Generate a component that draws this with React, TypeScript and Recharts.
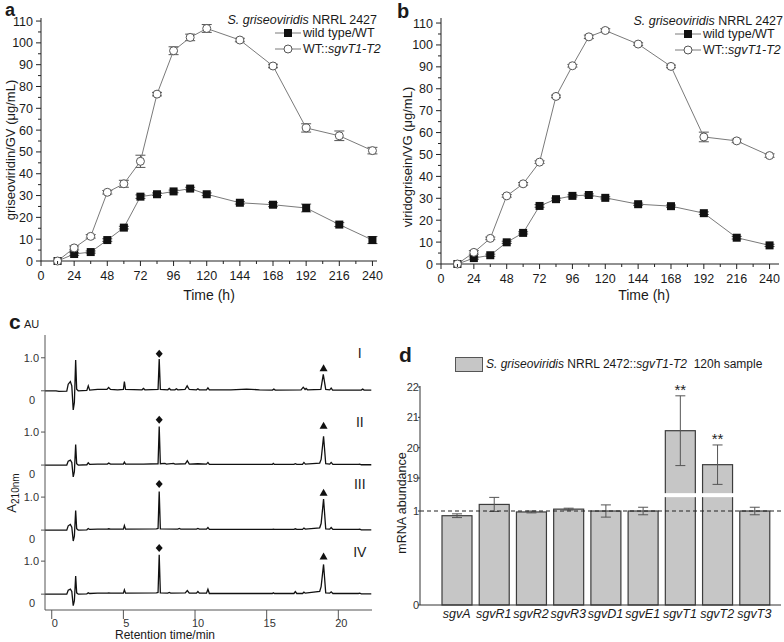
import React from "react"
import {
  LineChart,
  ComposedChart,
  BarChart,
  Line,
  Bar,
  Scatter,
  XAxis,
  YAxis,
  ErrorBar,
  ReferenceLine,
  LabelList,
} from "recharts"

const FONT = '"Liberation Sans", Arial, sans-serif'

// panels a / b: production over time
const hours = [12, 24, 36, 48, 60, 72, 84, 96, 108, 120, 144, 168, 192, 216, 240]
const gvWild = [0, 3.2, 4.1, 9.6, 15.3, 29.5, 30.6, 31.9, 33.2, 30.6, 26.7, 25.8, 24.3, 16.7, 9.6]
const gvWildErr = [0, 0.6, 0.5, 0.6, 0.6, 0.8, 0.6, 0.6, 0.6, 0.6, 0.6, 0.9, 1.8, 0.9, 1.6]
const gvOver = [0, 6.0, 11.3, 31.5, 35.4, 45.7, 76.5, 96.4, 102.5, 106.6, 101.3, 89.4, 61.0, 57.4, 50.6]
const gvOverErr = [0, 0.9, 0.8, 0.8, 1.6, 2.8, 0.8, 1.8, 1.5, 1.8, 0.8, 0.8, 1.9, 2.2, 1.5]
const vgWild = [0, 2.7, 4.0, 9.9, 14.2, 26.5, 29.6, 31.1, 31.5, 30.2, 27.3, 26.4, 23.2, 12.0, 8.5]
const vgWildErr = [0, 0.5, 0.5, 0.5, 0.5, 0.6, 0.5, 0.5, 0.5, 0.5, 0.5, 0.5, 0.6, 0.6, 0.5]
const vgOver = [0, 5.3, 11.7, 31.1, 36.6, 46.5, 76.5, 90.5, 103.7, 106.6, 100.4, 90.2, 58.0, 56.2, 49.5]
const vgOverErr = [0, 0.8, 0.6, 0.6, 0.6, 0.6, 0.6, 0.6, 0.8, 0.8, 0.6, 0.6, 2.2, 0.8, 0.8]
const hourTicks = [0, 12, 24, 36, 48, 60, 72, 84, 96, 108, 120, 132, 144, 156, 168, 180, 192, 204, 216, 228, 240]
const concTicks = [0, 5, 10, 15, 20, 25, 30, 35, 40, 45, 50, 55, 60, 65, 70, 75, 80, 85, 90, 95, 100, 105, 110]

// panel c: HPLC traces, [min, AU above own baseline]
const traceNames = ["I", "II", "III", "IV"]
const traceOffsets = [6.64, 4.39, 2.42, 0.48]
const traceI = [
  [-0.47, 0], [0.3, 0], [0.5, -0.02], [1.05, -0.01], [1.15, 0.2], [1.3, 0.28], [1.4, 0.15], [1.5, -0.58],
  [1.58, -0.35], [1.67, 0.93], [1.74, 0.05], [1.85, 0], [2.45, 0.01], [2.55, 0.15], [2.65, 0.02], [3.2, 0.04],
  [3.85, 0.04], [3.97, 0.1], [4.1, 0.04], [4.6, 0.03], [5.0, 0.04], [5.07, 0.28], [5.15, 0.04], [6.3, 0.03],
  [6.4, 0.07], [6.5, 0.03], [7.42, 0.04], [7.5, 0.96], [7.58, 0.04], [8.1, 0.03], [8.2, 0.07], [8.3, 0.03],
  [8.6, 0.03], [8.7, 0.06], [8.8, 0.03], [9.3, 0.04], [9.45, 0.15], [9.6, 0.04], [10.1, 0.03], [10.2, 0.06],
  [10.3, 0.03], [10.8, 0.03], [10.9, 0.09], [11.0, 0.03], [12.5, 0.03], [13.6, 0.05], [14.5, 0.03], [15.4, 0.02],
  [15.5, 0.05], [15.6, 0.02], [17.4, 0.03], [17.55, 0.11], [17.68, 0.04], [17.75, 0.07], [17.85, 0.03],
  [18.78, 0.04], [18.95, 0.5], [19.12, 0.04], [19.4, 0.03], [19.5, 0.08], [19.6, 0.02], [21.6, 0.02],
  [21.7, 0.05], [21.8, 0.02], [22.3, 0.02],
]
const traceII = [
  [-0.47, 0], [1.05, 0], [1.15, 0.12], [1.3, 0.15], [1.4, 0.08], [1.5, -0.36], [1.58, -0.2], [1.67, 0.62],
  [1.74, 0.04], [1.85, 0], [2.45, 0.01], [2.55, 0.07], [2.65, 0.02], [3.2, 0.03], [3.88, 0.03], [3.98, 0.06],
  [4.1, 0.03], [5.0, 0.03], [5.07, 0.09], [5.15, 0.03], [6.4, 0.03], [7.42, 0.04], [7.5, 1.17], [7.58, 0.04],
  [7.9, 0.05], [8.0, 0.03], [8.5, 0.05], [8.6, 0.03], [9.32, 0.04], [9.46, 0.13], [9.6, 0.03], [10.2, 0.04],
  [10.8, 0.03], [10.9, 0.08], [11.0, 0.02], [13.6, 0.02], [15.4, 0.02], [15.46, 0.05], [15.55, 0.02],
  [16.9, 0.02], [17.0, 0.04], [17.1, 0.02], [17.5, 0.02], [17.6, 0.08], [17.7, 0.03], [18.7, 0.06],
  [18.8, 0.17], [18.97, 0.87], [19.12, 0.04], [19.4, 0.03], [19.5, 0.08], [19.62, 0.02], [21.4, 0.02],
  [21.5, 0.03], [21.6, 0.01], [22.3, 0.01],
]
const traceIII = [
  [-0.47, 0], [1.05, 0], [1.15, 0.13], [1.3, 0.17], [1.4, 0.09], [1.5, -0.33], [1.58, -0.18], [1.67, 0.59],
  [1.74, 0.04], [1.85, 0], [2.45, 0.01], [2.55, 0.05], [2.65, 0.02], [3.2, 0.03], [3.88, 0.03], [3.98, 0.04],
  [4.1, 0.03], [5.0, 0.03], [5.07, 0.14], [5.15, 0.03], [7.3, 0.04], [7.42, 0.05], [7.5, 1.17], [7.58, 0.04],
  [8.8, 0.03], [8.9, 0.05], [9.0, 0.03], [10.1, 0.03], [10.2, 0.05], [10.3, 0.03], [10.8, 0.03], [10.9, 0.08],
  [11.0, 0.02], [15.4, 0.02], [15.46, 0.03], [15.55, 0.02], [16.9, 0.02], [17.0, 0.04], [17.1, 0.02],
  [17.5, 0.02], [17.6, 0.06], [17.7, 0.03], [18.7, 0.07], [18.8, 0.2], [18.97, 0.94], [19.12, 0.04],
  [19.4, 0.03], [19.5, 0.08], [19.62, 0.02], [21.4, 0.02], [21.5, 0.03], [21.6, 0.01], [22.3, 0.01],
]
const traceIV = [
  [-0.47, 0], [1.05, 0], [1.15, 0.12], [1.3, 0.15], [1.4, 0.08], [1.5, -0.35], [1.58, -0.2], [1.67, 0.55],
  [1.74, 0.04], [1.85, 0], [2.45, 0.01], [2.55, 0.04], [2.65, 0.02], [3.2, 0.03], [3.88, 0.03], [3.98, 0.04],
  [4.1, 0.03], [5.0, 0.03], [5.07, 0.13], [5.15, 0.03], [7.3, 0.04], [7.42, 0.05], [7.5, 1.19], [7.58, 0.04],
  [8.1, 0.03], [8.2, 0.05], [8.3, 0.03], [9.32, 0.04], [9.46, 0.11], [9.6, 0.03], [10.1, 0.03], [10.2, 0.08],
  [10.3, 0.03], [10.8, 0.03], [10.9, 0.15], [11.0, 0.02], [15.4, 0.02], [15.46, 0.04], [15.55, 0.02],
  [16.9, 0.02], [17.0, 0.08], [17.1, 0.02], [17.5, 0.02], [17.6, 0.06], [17.7, 0.03], [18.7, 0.08],
  [18.8, 0.23], [18.97, 0.9], [19.12, 0.04], [19.4, 0.03], [19.5, 0.07], [19.62, 0.02], [21.4, 0.02],
  [21.5, 0.03], [21.6, 0.01], [22.3, 0.01],
]
const traces = [traceI, traceII, traceIII, traceIV]
const diamondHeights = [1.12, 1.37, 1.4, 1.4]
const triangleHeights = [0.68, 1.19, 1.13, 1.14]
const romanHeights = [1.15, 1.31, 1.4, 1.28]
const retentionTicks = [0, 5, 10, 15, 20]

// panel d: qPCR
const genes = ["sgvA", "sgvR1", "sgvR2", "sgvR3", "sgvD1", "sgvE1", "sgvT1", "sgvT2", "sgvT3"]
const abundance = [0.95, 1.07, 0.99, 1.02, 1.0, 1.0, 20.56, 19.44, 1.0]
const abundanceErr = [0.02, 0.075, 0.01, 0.01, 0.065, 0.04, 1.15, 0.65, 0.04]
const significance = ["", "", "", "", "", "", "**", "**", ""]
const abundanceTicks = [0, 1, 19, 20, 21, 22]

// broken axis: linear below 10, compressed from 19 upward
const brokenScale = (v: number) => (v < 10 ? v : 1.351 + (v - 19) * 0.3227)
const brokenSlope = (v: number) => (v < 10 ? 1 : 0.3227)

const growthRows = (wt: number[], wtErr: number[], oe: number[], oeErr: number[]) =>
  hours.map((h, i) => ({ h, wt: wt[i], wtErr: wtErr[i], oe: oe[i], oeErr: oeErr[i] }))

const gvRows = growthRows(gvWild, gvWildErr, gvOver, gvOverErr)
const vgRows = growthRows(vgWild, vgWildErr, vgOver, vgOverErr)

const traceRows = traces.map((tr, k) => tr.map(([t, a]) => ({ t, y: a + traceOffsets[k] })))
const diamondRows = traceOffsets.map((o, k) => ({ t: 7.5, y: o + diamondHeights[k] }))
const triangleRows = traceOffsets.map((o, k) => ({ t: 18.97, y: o + triangleHeights[k] }))
const romanRows = traceOffsets.map((o, k) => ({ t: 21.5, y: o + romanHeights[k], name: traceNames[k] }))
const traceTicks = traceOffsets.flatMap((o) => [o, o + 1])

const geneRows = genes.map((g, i) => {
  const e = abundanceErr[i] * brokenSlope(abundance[i])
  return { gene: g, value: abundance[i], d: brokenScale(abundance[i]), err: [e, e], sig: significance[i] }
})

const Txt = ({ x, y, size = 13, anchor = "start", children, style = {} }: any) => {
  const shift = anchor === "end" ? "-100%" : anchor === "middle" ? "-50%" : "0"
  return (
    <div
      style={{
        position: "absolute",
        left: x,
        top: y,
        transform: `translate(${shift}, -50%)`,
        fontSize: size,
        lineHeight: 1,
        whiteSpace: "nowrap",
        color: "#1a1a1a",
        fontFamily: FONT,
        ...style,
      }}
    >
      {children}
    </div>
  )
}

const VTxt = ({ x, y, size = 13, children }: any) => (
  <div
    style={{
      position: "absolute",
      left: x,
      top: y,
      transform: "translate(-50%, -50%) rotate(-90deg)",
      fontSize: size,
      lineHeight: 1,
      whiteSpace: "nowrap",
      color: "#1a1a1a",
      fontFamily: FONT,
    }}
  >
    {children}
  </div>
)

const SquareDot = (p: any) => (
  <rect key={`s${p.index}`} x={p.cx - 4} y={p.cy - 4} width={8} height={8} fill="#111" />
)
const CircleDot = (p: any) => (
  <circle key={`c${p.index}`} cx={p.cx} cy={p.cy} r={4} fill="#fff" stroke="#555" strokeWidth={1} />
)

const HourTick = (p: any) => {
  const major = p.payload.value % 24 === 0
  return (
    <g>
      <line x1={p.x} x2={p.x} y1={p.y} y2={p.y + (major ? 5 : 3)} stroke="#222" />
      {major && (
        <text x={p.x} y={p.y + 19} textAnchor="middle" fontSize={12.5} fill="#1a1a1a" fontFamily={FONT}>
          {p.payload.value}
        </text>
      )}
    </g>
  )
}

const ConcTick = (p: any) => {
  const major = p.payload.value % 10 === 0
  return (
    <g>
      <line x1={p.x} x2={p.x - (major ? 5 : 3)} y1={p.y} y2={p.y} stroke="#222" />
      {major && (
        <text x={p.x - 8} y={p.y + 4.5} textAnchor="end" fontSize={12.5} fill="#1a1a1a" fontFamily={FONT}>
          {p.payload.value}
        </text>
      )}
    </g>
  )
}

function GrowthPanel({ rows, left, margin, xMax, yMax }: any) {
  return (
    <div style={{ position: "absolute", left, top: 0 }}>
      <LineChart width={392} height={310} data={rows} margin={margin}>
        <XAxis
          type="number"
          dataKey="h"
          domain={[0, xMax]}
          ticks={hourTicks}
          interval={0}
          tickLine={false}
          tickSize={0}
          tickMargin={0}
          height={30}
          stroke="#222"
          tick={HourTick}
        />
        <YAxis
          type="number"
          domain={[0, yMax]}
          ticks={concTicks}
          interval={0}
          tickLine={false}
          tickSize={0}
          tickMargin={0}
          width={30}
          stroke="#222"
          tick={ConcTick}
        />
        <Line dataKey="wt" stroke="#7a7a7a" strokeWidth={1} dot={SquareDot} isAnimationActive={false}>
          <ErrorBar dataKey="wtErr" width={5} stroke="#555" strokeWidth={1} />
        </Line>
        <Line dataKey="oe" stroke="#7a7a7a" strokeWidth={1} dot={CircleDot} isAnimationActive={false}>
          <ErrorBar dataKey="oeErr" width={5} stroke="#555" strokeWidth={1} />
        </Line>
      </LineChart>
    </div>
  )
}

function GrowthLegend({ right, lineX, y0 }: any) {
  return (
    <>
      <Txt x={right} y={y0 - 1} size={12.5} anchor="end">
        <i>S. griseoviridis</i> NRRL 2427
      </Txt>
      <svg style={{ position: "absolute", left: lineX, top: y0 + 4 }} width={26} height={34}>
        <line x1={0} x2={26} y1={8} y2={8} stroke="#7a7a7a" />
        <rect x={9} y={4} width={8} height={8} fill="#111" />
        <line x1={0} x2={26} y1={24} y2={24} stroke="#7a7a7a" />
        <circle cx={13} cy={24} r={4} fill="#fff" stroke="#555" />
      </svg>
      <Txt x={lineX + 28} y={y0 + 12} size={12.5}>wild type/WT</Txt>
      <Txt x={lineX + 28} y={y0 + 28} size={12.5}>
        WT::<i>sgvT1-T2</i>
      </Txt>
    </>
  )
}

const TraceYTick = (p: any) => {
  const idx = traceTicks.findIndex((v) => Math.abs(v - p.payload.value) < 1e-6)
  const isZero = idx % 2 === 0
  return (
    <g>
      <line x1={p.x} x2={p.x - 4} y1={p.y} y2={p.y} stroke="#555" />
      <text
        x={isZero ? p.x - 10 : p.x - 6}
        y={isZero ? p.y + 13 : p.y + 4}
        textAnchor="end"
        fontSize={11}
        fill="#333"
        fontFamily={FONT}
      >
        {isZero ? "0" : "1.0"}
      </text>
    </g>
  )
}

const RetentionTick = (p: any) => (
  <g>
    <line x1={p.x} x2={p.x} y1={p.y} y2={p.y + 9} stroke="#555" />
    <text x={p.x + 3} y={p.y + 17} textAnchor="middle" fontSize={11} fill="#333" fontFamily={FONT}>
      {p.payload.value}
    </text>
  </g>
)

const DiamondShape = (p: any) => (
  <path d={`M${p.cx},${p.cy - 4} L${p.cx + 3.5},${p.cy} L${p.cx},${p.cy + 4} L${p.cx - 3.5},${p.cy} Z`} fill="#111" />
)
const TriangleShape = (p: any) => (
  <path d={`M${p.cx},${p.cy - 4} L${p.cx + 4},${p.cy + 3} L${p.cx - 4},${p.cy + 3} Z`} fill="#111" />
)
const RomanShape = (p: any) => (
  <text x={p.cx} y={p.cy + 5} textAnchor="middle" fontSize={14} fill="#222" fontFamily={FONT}>
    {p.payload.name}
  </text>
)

function ChromatogramPanel() {
  return (
    <div style={{ position: "absolute", left: 0, top: 310 }}>
      <ComposedChart width={392} height={332} margin={{ top: 25, right: 20, bottom: 0, left: 0 }}>
        <XAxis
          type="number"
          dataKey="t"
          domain={[-0.47, 22.35]}
          ticks={retentionTicks}
          interval={0}
          tickLine={false}
          tickSize={0}
          tickMargin={0}
          height={32}
          stroke="#555"
          tick={RetentionTick}
        />
        <YAxis
          type="number"
          domain={[0, 8.33]}
          ticks={traceTicks}
          interval={0}
          tickLine={false}
          tickSize={0}
          tickMargin={0}
          width={45}
          stroke="#555"
          tick={TraceYTick}
        />
        {traceRows.map((rows, k) => (
          <Line
            key={traceNames[k]}
            data={rows}
            dataKey="y"
            type="linear"
            stroke="#111"
            strokeWidth={1.3}
            dot={false}
            isAnimationActive={false}
          />
        ))}
        <Scatter data={diamondRows} dataKey="y" shape={DiamondShape} isAnimationActive={false} />
        <Scatter data={triangleRows} dataKey="y" shape={TriangleShape} isAnimationActive={false} />
        <Scatter data={romanRows} dataKey="y" shape={RomanShape} isAnimationActive={false} />
      </ComposedChart>
    </div>
  )
}

const AbundanceTick = (p: any) => {
  const idx = abundanceTicks.findIndex((v) => Math.abs(brokenScale(v) - p.payload.value) < 1e-6)
  return (
    <g>
      <line x1={p.x} x2={p.x - 2} y1={p.y} y2={p.y} stroke="#333" />
      <text x={p.x - 1} y={p.y + 4} textAnchor="end" fontSize={11} fill="#333" fontFamily={FONT}>
        {abundanceTicks[idx]}
      </text>
    </g>
  )
}

const GeneTick = (p: any) => (
  <text x={p.x} y={p.y + 13} textAnchor="middle" fontSize={12.5} fontStyle="italic" fill="#1a1a1a" fontFamily={FONT}>
    {p.payload.value}
  </text>
)

const BrokenBar = (p: any) => {
  const { x, y, width, height, payload } = p
  const perUnit = height / payload.d
  const gapTop = y + height - 1.19 * perUnit
  return (
    <g>
      <rect x={x} y={y} width={width} height={height} fill="#c6c6c6" stroke="#3c3c3c" strokeWidth={1.2} />
      {payload.value > 10 && <rect x={x - 2} y={gapTop} width={width + 4} height={4} fill="#fff" />}
    </g>
  )
}

const StarLabel = (p: any) => {
  const row = geneRows[p.index]
  if (!row || !row.sig) return null
  const perUnit = p.height / row.d
  const top = p.y - row.err[1] * perUnit
  return (
    <text x={p.x + p.width / 2} y={top - 1} textAnchor="middle" fontSize={15} fill="#222" fontFamily={FONT}>
      {row.sig}
    </text>
  )
}

function AbundancePanel() {
  return (
    <div style={{ position: "absolute", left: 392, top: 310 }}>
      <BarChart width={392} height={332} data={geneRows} margin={{ top: 76, right: 3, bottom: 12, left: 0 }}>
        <XAxis
          dataKey="gene"
          padding={{ left: 18, right: 8 }}
          interval={0}
          tickLine={false}
          tickSize={0}
          tickMargin={0}
          height={25}
          stroke="#333"
          tick={GeneTick}
        />
        <YAxis
          type="number"
          domain={[0, 2.33]}
          ticks={abundanceTicks.map(brokenScale)}
          interval={0}
          tickLine={false}
          tickSize={0}
          tickMargin={0}
          width={28}
          stroke="#333"
          tick={AbundanceTick}
        />
        <Bar dataKey="d" barSize={30} shape={BrokenBar} isAnimationActive={false}>
          <ErrorBar dataKey="err" width={5} stroke="#555" strokeWidth={1} direction="y" />
          <LabelList dataKey="sig" content={StarLabel} />
        </Bar>
        <ReferenceLine y={1} stroke="#222" strokeWidth={1.2} strokeDasharray="4 3" />
      </BarChart>
    </div>
  )
}

export default function App() {
  return (
    <div
      style={{
        position: "absolute",
        left: 0,
        top: 0,
        width: 784,
        height: 642,
        overflow: "hidden",
        background: "#fff",
        fontFamily: FONT,
      }}
    >
      <GrowthPanel rows={gvRows} left={0} margin={{ top: 18, right: 15, bottom: 19, left: 11 }} xMax={243.3} yMax={111.4} />
      <GrowthPanel rows={vgRows} left={392} margin={{ top: 18, right: 5, bottom: 16, left: 19 }} xMax={246.9} yMax={112.3} />
      <ChromatogramPanel />
      <AbundancePanel />

      <Txt x={5} y={10} size={18} style={{ fontWeight: "bold" }}>a</Txt>
      <GrowthLegend right={377} lineX={275} y0={21} />
      <Txt x={209} y={295} size={14} anchor="middle">Time (h)</Txt>
      <VTxt x={10} y={150}>griseoviridin/GV (μg/mL)</VTxt>

      <Txt x={397} y={11} size={20} style={{ fontWeight: "bold" }}>b</Txt>
      <GrowthLegend right={783} lineX={675} y0={22} />
      <Txt x={644} y={295} size={14} anchor="middle">Time (h)</Txt>
      <VTxt x={407} y={157}>viridogrisein/VG (μg/mL)</VTxt>

      <Txt x={9} y={321} size={21} style={{ fontWeight: "bold" }}>c</Txt>
      <Txt x={24} y={324} size={11}>AU</Txt>
      <VTxt x={13} y={493} size={13}>
        A<sub style={{ fontSize: 10 }}>210nm</sub>
      </VTxt>
      <Txt x={165} y={634.5} size={12} anchor="middle">Retention time/min</Txt>

      <Txt x={399} y={354} size={21} style={{ fontWeight: "bold" }}>d</Txt>
      <div
        style={{
          position: "absolute",
          left: 455,
          top: 357,
          width: 26,
          height: 13,
          background: "#c6c6c6",
          border: "1px solid #555",
        }}
      />
      <Txt x={486} y={364} size={12}>
        <i>S. griseoviridis</i> NRRL 2472::<i>sgvT1-T2</i>&nbsp;&nbsp;120h sample
      </Txt>
      <VTxt x={402} y={503} size={12.5}>mRNA abundance</VTxt>
    </div>
  )
}
